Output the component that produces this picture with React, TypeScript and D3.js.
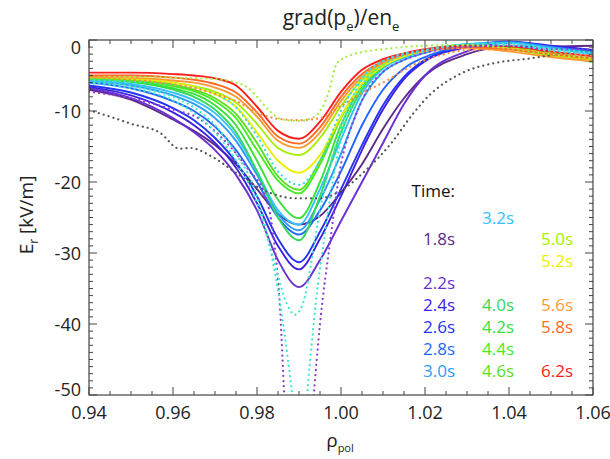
import React from 'react';
import * as d3 from 'd3';

// ---------- data ----------
const rhoGrid = [0.94, 0.95, 0.96, 0.965, 0.97, 0.975, 0.98, 0.985, 0.99, 0.995, 1.0, 1.005, 1.01, 1.015, 1.02, 1.03, 1.04, 1.05, 1.06];

const times = [1.8, 2.2, 2.4, 2.6, 2.8, 3.0, 3.2, 4.0, 4.2, 4.4, 4.6, 5.0, 5.2, 5.6, 5.8, 6.2];
const timeLabels = ['1.8s', '2.2s', '2.4s', '2.6s', '2.8s', '3.0s', '3.2s', '4.0s', '4.2s', '4.4s', '4.6s', '5.0s', '5.2s', '5.6s', '5.8s', '6.2s'];
const timeColors = ['#5e2a84', '#6a2fd2', '#3d20e4', '#2233f2', '#1f66ff', '#2a9cff', '#33c2ff', '#35d858', '#38e038', '#45ec26', '#5ede1c', '#a8ee00', '#eeee00', '#ff9a33', '#ff6a22', '#ff1c1c'];

const er18 = [-7.0, -8.4, -11.2, -12.8, -14.8, -17.5, -21.0, -24.5, -26.0, -24.8, -21.5, -17.5, -12.5, -8.2, -5.0, -2.0, -0.9, -0.9, -0.8];
const er22 = [-6.8, -8.2, -11.0, -13.0, -15.5, -19.0, -24.0, -31.0, -34.8, -31.0, -25.5, -20.0, -14.5, -9.0, -5.0, -1.6, -0.4, -1.0, -1.8];
const er24 = [-6.6, -7.8, -10.2, -12.0, -14.5, -18.0, -23.0, -29.0, -32.3, -28.0, -22.0, -15.5, -9.8, -5.5, -3.0, -1.0, -0.2, -0.8, -1.4];
const er26 = [-6.4, -7.4, -9.6, -11.3, -13.8, -17.2, -22.0, -28.0, -31.3, -27.0, -21.0, -14.8, -9.2, -5.2, -2.8, -0.9, -0.3, -1.0, -1.5];
const er28 = [-6.0, -6.8, -8.6, -10.0, -12.2, -15.5, -20.0, -25.0, -27.4, -24.0, -18.5, -12.0, -7.0, -4.0, -2.4, -0.8, -0.3, -1.0, -1.6];
const er30 = [-5.8, -6.4, -7.8, -9.0, -11.0, -14.2, -19.0, -24.5, -26.8, -22.5, -16.0, -8.5, -4.5, -2.8, -1.8, -0.6, -0.3, -1.0, -1.8];
const er32 = [-5.7, -6.2, -7.4, -8.5, -10.3, -13.5, -18.5, -24.0, -26.0, -21.0, -14.0, -7.5, -4.0, -2.5, -1.5, -0.6, -0.4, -1.2, -2.0];
const er40 = [-5.5, -5.9, -7.0, -8.0, -9.8, -13.0, -18.5, -25.0, -28.2, -22.0, -13.0, -7.0, -3.8, -2.3, -1.5, -0.8, -1.0, -2.0, -3.1];
const er42 = [-5.5, -5.8, -6.8, -7.6, -9.2, -12.0, -17.0, -22.5, -25.1, -20.0, -12.0, -6.5, -3.6, -2.2, -1.4, -0.8, -1.0, -1.9, -2.9];
const er44 = [-5.4, -5.7, -6.5, -7.2, -8.6, -11.0, -15.5, -19.8, -21.6, -17.5, -11.0, -6.2, -3.5, -2.2, -1.4, -0.8, -1.1, -2.0, -3.0];
const er46 = [-5.3, -5.6, -6.3, -7.0, -8.2, -10.4, -14.5, -19.2, -21.1, -17.0, -10.8, -6.2, -3.6, -2.3, -1.5, -0.9, -1.0, -1.8, -2.8];
const er50 = [-5.3, -5.5, -6.0, -6.5, -7.3, -8.8, -11.8, -15.2, -16.2, -13.8, -9.3, -5.6, -3.4, -2.2, -1.5, -1.0, -1.3, -2.2, -2.8];
const er52 = [-5.2, -5.4, -6.0, -6.6, -7.6, -9.4, -13.0, -17.0, -18.7, -16.2, -10.8, -6.2, -3.7, -2.3, -1.5, -1.0, -1.2, -2.0, -2.6];
const er56 = [-5.2, -5.3, -5.7, -6.0, -6.7, -8.0, -10.8, -14.2, -15.2, -13.0, -8.6, -5.2, -3.2, -2.1, -1.5, -1.1, -1.6, -2.4, -3.0];
const er58 = [-5.0, -5.0, -5.3, -5.6, -6.2, -7.4, -10.2, -13.6, -14.6, -12.3, -8.0, -4.8, -3.0, -2.0, -1.4, -1.0, -1.3, -2.0, -2.6];
const er62 = [-4.6, -4.6, -4.8, -5.0, -5.4, -6.4, -9.4, -12.8, -13.9, -11.5, -7.3, -4.2, -2.7, -1.9, -1.3, -0.8, -0.9, -1.6, -2.3];

const solidSeries = [er18, er22, er24, er26, er28, er30, er32, er40, er42, er44, er46, er50, er52, er56, er58, er62];

// dotted reference profiles: [rho, Er]
const dotGray: [number, number][] = [[0.94, -9.9], [0.945, -10.8], [0.95, -11.8], [0.957, -13.1], [0.9615, -15.3], [0.964, -15.2], [0.9695, -16.5], [0.975, -18.7], [0.9814, -21.1], [0.9895, -22.3], [0.995, -22.3], [1.0, -21.2], [1.006, -18.3], [1.012, -14.5], [1.017, -10.5], [1.021, -7.8], [1.029, -4.6], [1.037, -3.2], [1.045, -2.6], [1.052, -2.0], [1.06, -1.5]];
const dotPurple: [number, number][] = [[0.94, -7.3], [0.95, -8.2], [0.96, -9.8], [0.966, -11.0], [0.972, -14.0], [0.978, -18.3], [0.982, -22.0], [0.984, -28.0], [0.9855, -38.0], [0.9865, -50.0], [0.988, -60.0], [0.992, -60.0], [0.9935, -50.0], [0.995, -40.0], [0.9975, -28.0], [1.0, -17.5], [1.002, -13.0], [1.004, -9.9], [1.006, -7.3], [1.01, -4.5], [1.015, -2.8], [1.02, -1.8], [1.03, -1.0], [1.04, -0.8], [1.05, -1.3], [1.06, -1.3]];
const dotCyanA: [number, number][] = [[0.94, -5.9], [0.95, -6.5], [0.96, -8.0], [0.965, -9.5], [0.97, -12.0], [0.975, -16.0], [0.98, -22.0], [0.983, -29.0], [0.986, -39.0], [0.988, -48.0], [0.9895, -55.0], [0.991, -55.0], [0.9925, -46.0], [0.994, -37.0], [0.996, -28.0], [0.998, -20.0], [1.0, -14.0], [1.005, -6.5], [1.01, -3.5], [1.02, -1.5], [1.03, -0.6], [1.04, -0.5], [1.05, -1.2], [1.06, -1.8]];
const dotCyanB: [number, number][] = [[0.94, -6.1], [0.95, -6.8], [0.96, -8.5], [0.97, -13.0], [0.975, -17.0], [0.98, -23.0], [0.984, -31.0], [0.987, -37.0], [0.989, -38.7], [0.991, -37.0], [0.993, -31.0], [0.995, -24.0], [1.0, -12.5], [1.005, -5.5], [1.01, -3.0], [1.02, -1.4], [1.03, -0.7], [1.04, -0.7], [1.05, -1.4], [1.06, -2.0]];
const dotCyanC: [number, number][] = [[0.94, -5.6], [0.96, -6.3], [0.97, -7.6], [0.975, -9.5], [0.98, -13.5], [0.985, -18.5], [0.99, -20.4], [0.995, -17.0], [1.0, -10.0], [1.005, -5.3], [1.01, -3.0], [1.02, -1.4], [1.03, -0.8], [1.04, -0.8], [1.05, -1.5], [1.06, -2.0]];
const dotGreen: [number, number][] = [[0.94, -5.2], [0.95, -5.2], [0.96, -5.3], [0.97, -5.5], [0.975, -6.0], [0.978, -6.8], [0.98, -8.0], [0.983, -10.0], [0.986, -11.2], [0.99, -11.4], [0.993, -11.0], [0.995, -10.0], [0.997, -7.5], [0.999, -3.3], [1.002, -2.2], [1.005, -1.7], [1.01, -1.3], [1.02, -0.8], [1.03, -0.7], [1.04, -1.2], [1.05, -2.0], [1.06, -2.6]];
const dotOrange: [number, number][] = [[0.94, -5.2], [0.95, -5.6], [0.957, -6.0], [0.965, -6.8], [0.97, -7.6], [0.975, -8.6], [0.98, -10.2], [0.985, -11.1], [0.99, -11.3], [0.995, -11.0], [1.0, -9.3], [1.005, -7.5], [1.01, -6.0], [1.018, -3.3], [1.024, -2.1], [1.03, -1.4], [1.04, -1.3], [1.05, -1.8], [1.06, -2.2]];

const dottedSeries = [dotGray, dotPurple, dotCyanA, dotCyanB, dotCyanC, dotGreen, dotOrange];
const dottedColors = ['#555555', '#8a3fd0', '#3fe8c8', '#3fe8c8', '#40d8f0', '#a6f040', '#ff8a40'];

const xTickValues = [0.94, 0.96, 0.98, 1.0, 1.02, 1.04, 1.06];
const xTickLabels = ['0.94', '0.96', '0.98', '1.00', '1.02', '1.04', '1.06'];
const yTickValues = [0, -10, -20, -30, -40, -50];
const yTickLabels = ['0', '-10', '-20', '-30', '-40', '-50'];

// ---------- component ----------
export default function App() {
  const W = 610, H = 459;
  const L = 89, R = 593, T = 40, B = 395;
  const font = "'Open Sans', 'Noto Sans', sans-serif";
  const x = d3.scaleLinear().domain([0.94, 1.06]).range([L, R]);
  const y = d3.scaleLinear().domain([-50, 0]).range([B, T]);
  const line = d3.line<[number, number]>().x(d => x(d[0])).y(d => y(d[1])).curve(d3.curveMonotoneX);

  const xMinor = d3.range(0, 25).map(i => 0.94 + i * 0.005);
  const yMinor = d3.range(0, 51).map(i => -i);

  const legend = times.map((t, i) => {
    const idx = Math.round((t - 1.6) / 0.2);
    return { label: timeLabels[i], color: timeColors[i], col: Math.floor(idx / 8), row: idx % 8 };
  });
  const colEnds = [455, 514, 573];

  return (
    <svg width={W} height={H} style={{ position: 'absolute', left: 0, top: 0, background: '#fff' }} fontFamily={font}>
      <defs>
        <clipPath id="plotclip"><rect x={L} y={T} width={R - L} height={B - T} /></clipPath>
      </defs>
      <rect x={0} y={0} width={W} height={H} fill="#fff" />
      <g clipPath="url(#plotclip)" fill="none">
        {solidSeries.map((s, i) => (
          <path key={'s' + i} d={line(rhoGrid.map((r, j) => [r, s[j]] as [number, number])) || ''} stroke={timeColors[i]} strokeWidth={1.9} />
        ))}
        {dottedSeries.map((s, i) => (
          <path key={'d' + i} d={line(s) || ''} stroke={dottedColors[i]} strokeWidth={2.2} strokeDasharray="0.1 5" strokeLinecap="round" />
        ))}
      </g>
      {/* frame */}
      <rect x={L} y={T} width={R - L} height={B - T} fill="none" stroke="#444" strokeWidth={1.2} />
      {/* x ticks */}
      {xMinor.map((v, i) => {
        const major = i % 4 === 0;
        const len = major ? 8 : 4;
        return (
          <g key={'xt' + i} stroke="#444" strokeWidth={1}>
            <line x1={x(v)} x2={x(v)} y1={B} y2={B - len} />
            <line x1={x(v)} x2={x(v)} y1={T} y2={T + len} />
          </g>
        );
      })}
      {yMinor.map((v, i) => {
        const major = i % 10 === 0;
        const len = major ? 8 : 4;
        return (
          <g key={'yt' + i} stroke="#444" strokeWidth={1}>
            <line x1={L} x2={L + len} y1={y(v)} y2={y(v)} />
            <line x1={R} x2={R - len} y1={y(v)} y2={y(v)} />
          </g>
        );
      })}
      {xTickValues.map((v, i) => (
        <text key={'xl' + i} x={x(v)} y={419} textAnchor="middle" fontSize={18} fill="#222">{xTickLabels[i]}</text>
      ))}
      {yTickValues.map((v, i) => {
        const cy = Math.min(Math.max(y(v), T + 7), B - 6);
        return <text key={'yl' + i} x={81} y={cy + 6.5} textAnchor="end" fontSize={18} fill="#222">{yTickLabels[i]}</text>;
      })}
      {/* title */}
      <text x={341} y={25} textAnchor="middle" fontSize={21} fill="#222">
        grad(p<tspan fontSize={13} dy={6}>e</tspan><tspan dy={-6}>)/en</tspan><tspan fontSize={13} dy={6}>e</tspan>
      </text>
      {/* axis titles */}
      <text x={340} y={447} textAnchor="middle" fontSize={19} fill="#222">
        ρ<tspan fontSize={11} dy={5}>pol</tspan>
      </text>
      <text transform="translate(33,215) rotate(-90)" textAnchor="middle" fontSize={19} fill="#222">
        E<tspan fontSize={12} dy={5}>r</tspan><tspan dy={-5}> [kV/m]</tspan>
      </text>
      {/* legend */}
      <text x={455} y={197} textAnchor="end" fontSize={17} fontWeight={500} fill="#111">Time:</text>
      {legend.map((d, i) => (
        <text key={'lg' + i} x={colEnds[d.col]} y={223.5 + d.row * 21.9} textAnchor="end" fontSize={17} fill={d.color}>{d.label}</text>
      ))}
    </svg>
  );
}
